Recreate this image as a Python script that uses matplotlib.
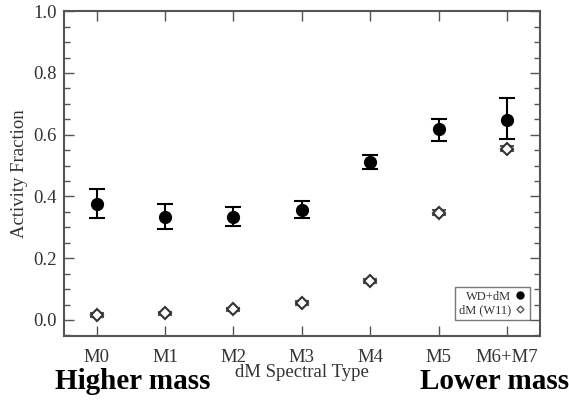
import numpy as np
import matplotlib.pyplot as plt
from matplotlib.ticker import MultipleLocator
from matplotlib.lines import Line2D

plt.rcParams["font.family"] = ["Liberation Serif", "DejaVu Serif"]

types = ["M0", "M1", "M2", "M3", "M4", "M5", "M6+M7"]
wd_frac = [0.375, 0.335, 0.335, 0.357, 0.512, 0.617, 0.648]
wd_err_lo = [0.045, 0.04, 0.03, 0.027, 0.022, 0.037, 0.063]
wd_err_hi = [0.05, 0.04, 0.03, 0.028, 0.023, 0.035, 0.072]
dm_frac = [0.015, 0.022, 0.035, 0.055, 0.127, 0.347, 0.555]
dm_err = [0.006, 0.005, 0.005, 0.006, 0.007, 0.008, 0.008]

x = np.arange(len(types))

fig = plt.figure(figsize=(5.69, 4.0), dpi=100)
ax = fig.add_axes([0.112, 0.16, 0.837, 0.812])

ax.errorbar(x, wd_frac, yerr=[wd_err_lo, wd_err_hi], fmt="o", color="black",
            markersize=8.5, capsize=6, elinewidth=1.5, capthick=1.5)
ax.errorbar(x, dm_frac, yerr=dm_err, fmt="D", color="#555555", mfc="white",
            mec="#333333", markersize=6, mew=1.5, capsize=5, elinewidth=1)

ax.set_xlim(-0.48, 6.48)
ax.set_ylim(-0.052, 1.0)
ax.set_xticks(x)
ax.set_xticklabels(types, fontsize=13.5, color="#333333")
ax.yaxis.set_major_locator(MultipleLocator(0.2))
ax.yaxis.set_minor_locator(MultipleLocator(0.05))
ax.yaxis.set_major_formatter(plt.FormatStrFormatter("%.1f"))
ax.tick_params(axis="y", labelsize=13.5, labelcolor="#333333", pad=5)
ax.tick_params(axis="x", pad=9)
ax.tick_params(which="both", direction="in", top=True, right=True,
               color="#555555")
ax.tick_params(which="major", length=7, width=1)
ax.tick_params(which="minor", length=4, width=1)
for s in ax.spines.values():
    s.set_color("#555555")
    s.set_linewidth(1.5)

ax.set_ylabel("Activity Fraction", fontsize=13.5, color="#333333", labelpad=4)
ax.set_xlabel("dM Spectral Type", fontsize=13.5, color="#333333", labelpad=-1)

handles = [
    Line2D([], [], marker="o", ls="none", color="black", markersize=5),
    Line2D([], [], marker="D", ls="none", mfc="white", mec="#555555",
           markersize=3.5, mew=1),
]
leg = ax.legend(handles, ["WD+dM", "dM (W11)"], loc="lower right",
                fontsize=9, markerfirst=False, fancybox=False,
                edgecolor="#555555", handletextpad=0.2, handlelength=1,
                borderpad=0.3, labelspacing=0.1, borderaxespad=0,
                bbox_to_anchor=(0.978, 0.05))
leg.get_frame().set_linewidth(1)
for t in leg.get_texts():
    t.set_color("#333333")

fig.text(0.097, 0.012, "Higher mass", fontsize=21, fontweight="bold",
         ha="left", va="bottom")
fig.text(1.0, 0.012, "Lower mass", fontsize=21, fontweight="bold",
         ha="right", va="bottom")

fig.savefig("out.png", dpi=100)
